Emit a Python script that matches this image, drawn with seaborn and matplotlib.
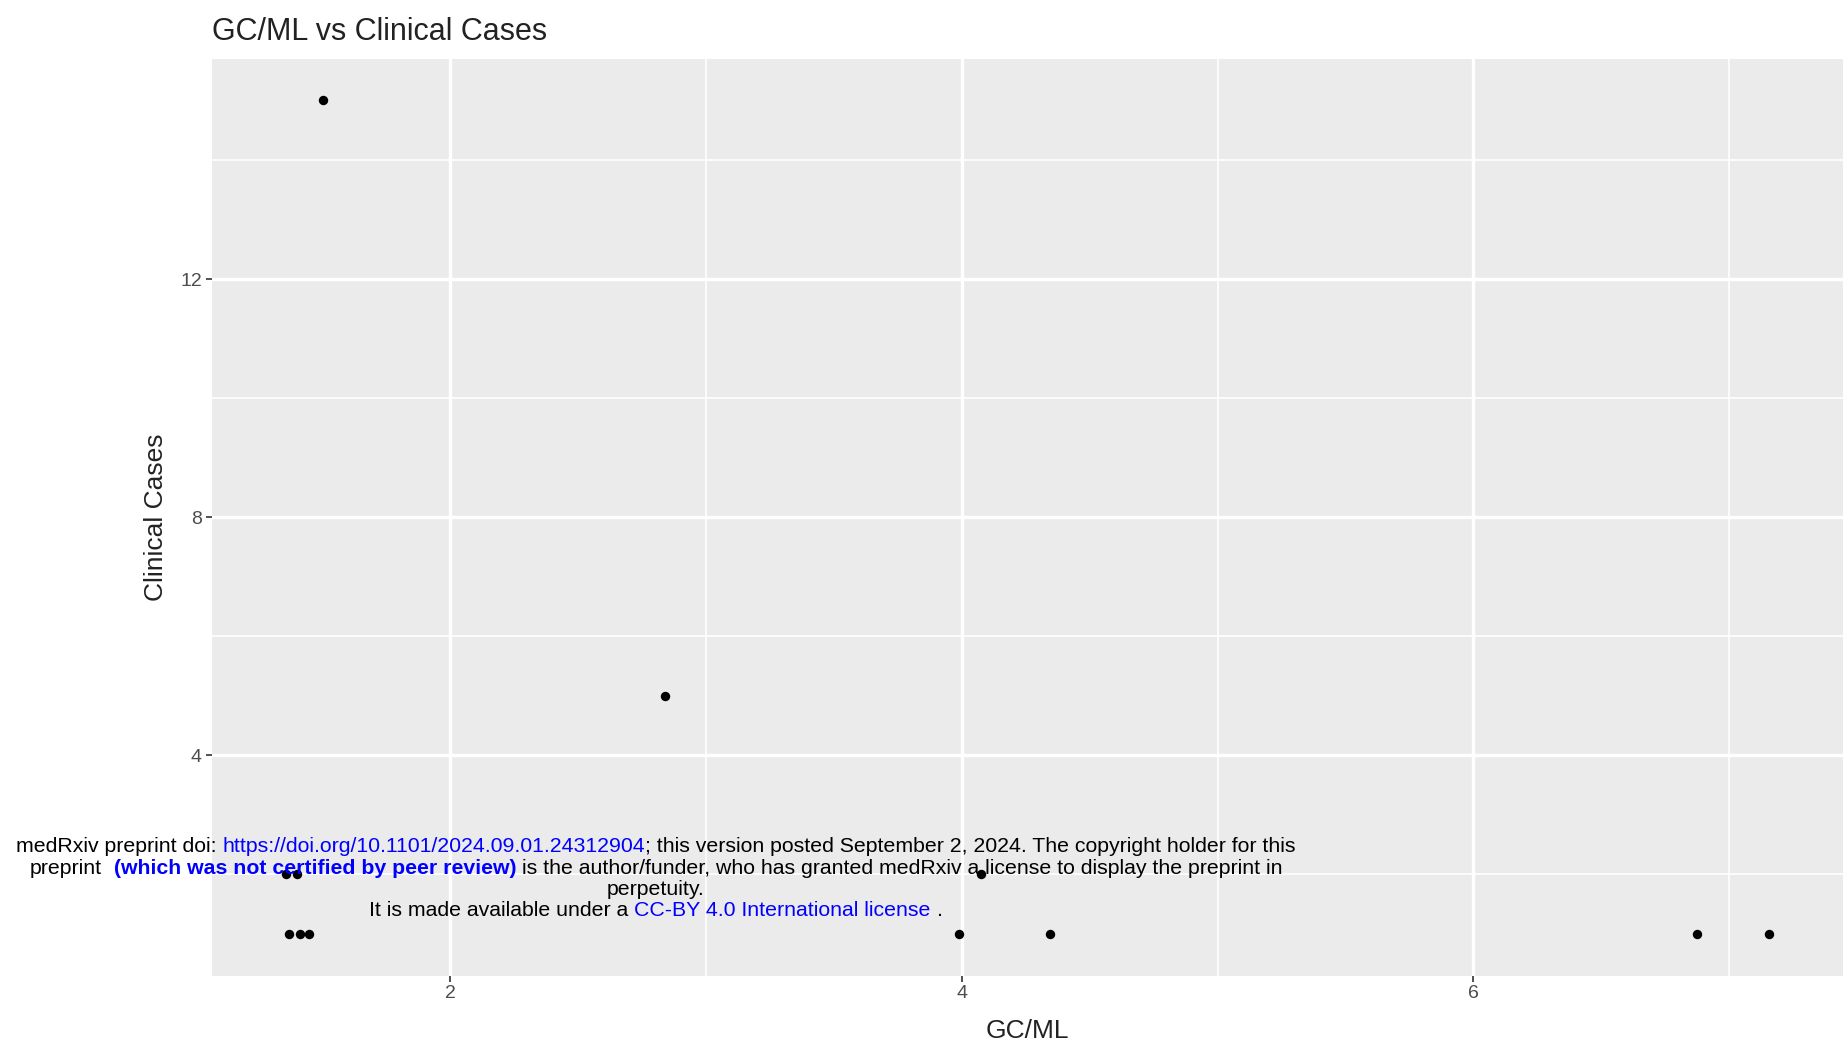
import matplotlib
matplotlib.use("Agg")
import matplotlib.pyplot as plt
import seaborn as sns
import pandas as pd
from matplotlib.ticker import MultipleLocator

# values
gc_ml = [1.50, 2.84, 1.356, 1.399, 4.075, 1.368, 1.410, 1.445, 3.989, 4.343, 6.873, 7.155]
clinical_cases = [15, 5, 2, 2, 2, 1, 1, 1, 1, 1, 1, 1]

title = "GC/ML vs Clinical Cases"
x_label = "GC/ML"
y_label = "Clinical Cases"

# medRxiv notice printed over the figure, one list per line: (text, colour, weight)
notice_lines = [
    [("medRxiv preprint doi:", "black", "normal"), (" ", None, "normal"),
     ("https://doi.org/10.1101/2024.09.01.24312904", "#0000FF", "normal"),
     ("; this version posted September 2, 2024. The copyright holder for this", "black", "normal")],
    [("preprint", "black", "normal"), ("  ", None, "normal"),
     ("(which was not certified by peer review)", "#0000FF", "bold"), (" ", None, "normal"),
     ("is the author/funder, who has granted medRxiv a license to display the preprint in", "black", "normal")],
    [("perpetuity.", "black", "normal")],
    [("It is made available under a", "black", "normal"), (" ", None, "normal"),
     ("CC-BY 4.0 International license", "#0000FF", "normal"), (" ", None, "normal"),
     (".", "black", "normal")],
]

df = pd.DataFrame({x_label: gc_ml, y_label: clinical_cases})

sns.set_theme(style="darkgrid", rc={
    "axes.facecolor": "#EBEBEB",
    "figure.facecolor": "white",
    "axes.edgecolor": "#EBEBEB",
})
plt.rcParams['font.family'] = ['Liberation Sans', 'DejaVu Sans']

W, H = 1843, 1048
fig = plt.figure(figsize=(W / 100, H / 100), dpi=100)
ax = fig.add_axes([211.6 / W, 1 - 975.6 / H, (W - 211.6) / W, (975.6 - 58.8) / H])

sns.scatterplot(data=df, x=x_label, y=y_label, color="black", s=46,
                linewidth=0, ax=ax, zorder=3)
ax.margins(x=0.05, y=0.05)

ax.xaxis.set_major_locator(MultipleLocator(2))
ax.xaxis.set_minor_locator(MultipleLocator(1))
ax.yaxis.set_major_locator(MultipleLocator(4))
ax.yaxis.set_minor_locator(MultipleLocator(2))
ax.grid(which="major", color="white", linewidth=2.4)
ax.grid(which="minor", color="white", linewidth=1.2)
ax.set_axisbelow(True)
for sp in ax.spines.values():
    sp.set_visible(False)

ax.tick_params(which="minor", length=0)
ax.tick_params(which="major", length=4, width=1.2, color="#333333",
               labelsize=14, labelcolor="#4D4D4D", pad=3, bottom=True, left=True)

ax.set_title(title, loc="left", fontsize=22, color="#222222", pad=13.5)
ax.set_xlabel(x_label, fontsize=19, color="#222222")
ax.set_ylabel(y_label, fontsize=19, color="#222222")
ax.xaxis.set_label_coords(0.5, -0.047)
ax.yaxis.set_label_coords(-0.027, 0.5)

# notice text, each line centred
notice_size = 15.3
renderer = fig.canvas.get_renderer()


def text_width(s, weight):
    t = fig.text(0, 0, s, fontsize=notice_size, fontweight=weight)
    w = t.get_window_extent(renderer).width
    t.remove()
    return w


center_x = 656
baselines = [852, 873.5, 894.6, 915.8]
for line, base in zip(notice_lines, baselines):
    widths = []
    for s, col, wt in line:
        if s.strip() == "":
            widths.append(text_width("|" + s + "|", wt) - text_width("||", wt))
        else:
            widths.append(text_width(s, wt))
    x = center_x - sum(widths) / 2
    for (s, col, wt), w in zip(line, widths):
        if s.strip() != "":
            fig.text(x / W, 1 - base / H, s, fontsize=notice_size, fontweight=wt,
                     color=col, ha="left", va="baseline", zorder=10)
        x += w

fig.savefig("out.png", dpi=100)
